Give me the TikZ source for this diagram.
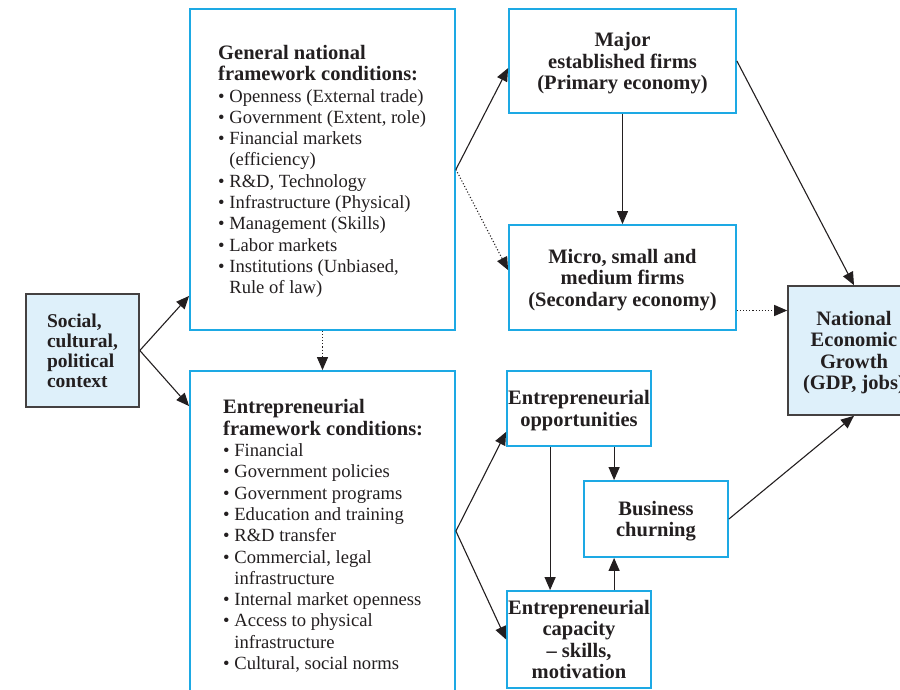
\documentclass[tikz,border=0pt]{standalone}
\usepackage{fontspec}
\setmainfont{Liberation Serif}
\usetikzlibrary{arrows.meta}
\definecolor{boxcyan}{HTML}{1DA9E4}
\definecolor{boxfill}{HTML}{DEF0FA}
\definecolor{ink}{HTML}{231F20}
\newcommand\hdrfont{\fontsize{20.5}{21.3}\selectfont\bfseries}
\newcommand\contind{\hphantom{\textbullet\ }}
\begin{document}
\begin{tikzpicture}[x=1pt,y=-1pt,
  cyanbox/.style={draw=boxcyan, line width=1.8pt, inner sep=0pt, fill=white},
  fillbox/.style={draw=ink!85, line width=1.6pt, fill=boxfill, inner sep=0pt},
  boldtxt/.style={font=\fontsize{20.5}{21.5}\selectfont\bfseries, text=ink, align=center, text depth=0pt},
  listtxt/.style={font=\fontsize{18.6}{21.3}\selectfont, text=ink, align=left, inner sep=0pt, anchor=north west},
  conn/.style={draw=ink, line width=1.1pt, -{Triangle[length=13pt,width=11pt]}},
  dotconn/.style={conn, dotted},
]
\useasboundingbox (0,0) rectangle (900,690);

% boxes
\node[fillbox, boldtxt, font=\fontsize{19.5}{20}\selectfont\bfseries, align=left,
      minimum width=113pt, minimum height=113pt] (social) at (82.5,350.5)
      {Social,\\cultural,\\political\\context};
\node[cyanbox, minimum width=265pt, minimum height=321pt] (gen) at (322.5,169.5) {};
\node[cyanbox, minimum width=265pt, minimum height=349pt] (entfw) at (322.5,545.5) {};
\node[cyanbox, boldtxt, minimum width=227pt, minimum height=104pt] (major) at (622.5,61)
      {Major\\established firms\\(Primary economy)};
\node[cyanbox, boldtxt, minimum width=227pt, minimum height=105pt] (micro) at (622.5,277.5)
      {Micro, small and\\medium firms\\(Secondary economy)};
\node[fillbox, boldtxt, minimum width=132pt, minimum height=129pt] (nat) at (854,350.5)
      {National\\Economic\\Growth\\(GDP, jobs)};
\node[cyanbox, boldtxt, minimum width=144pt, minimum height=75pt] (opp) at (579,408.5)
      {Entrepreneurial\\opportunities};
\node[cyanbox, boldtxt, minimum width=144pt, minimum height=76pt] (churn) at (656,519)
      {Business\\churning};
\node[cyanbox, boldtxt, minimum width=144pt, minimum height=97pt] (cap) at (579,639.5)
      {Entrepreneurial\\capacity\\– skills,\\motivation};

% list texts
\node[listtxt] (gentxt) at (218,45) {%
  {\hdrfont General national}\\
  {\hdrfont framework conditions:}\\
  \textbullet\ Openness (External trade)\\
  \textbullet\ Government (Extent, role)\\
  \textbullet\ Financial markets\\
  \contind(efficiency)\\
  \textbullet\ R\&D, Technology\\
  \textbullet\ Infrastructure (Physical)\\
  \textbullet\ Management (Skills)\\
  \textbullet\ Labor markets\\
  \textbullet\ Institutions (Unbiased,\\
  \contind Rule of law)};
\node[listtxt] (entfwtxt) at (223,399.5) {%
  {\hdrfont Entrepreneurial}\\
  {\hdrfont framework conditions:}\\
  \textbullet\ Financial\\
  \textbullet\ Government policies\\
  \textbullet\ Government programs\\
  \textbullet\ Education and training\\
  \textbullet\ R\&D transfer\\
  \textbullet\ Commercial, legal\\
  \contind infrastructure\\
  \textbullet\ Internal market openness\\
  \textbullet\ Access to physical\\
  \contind infrastructure\\
  \textbullet\ Cultural, social norms};

% connectors
\draw[conn] (social.east) -- ([yshift=35pt]gen.south west);
\draw[conn] (social.east) -- ([yshift=-36pt]entfw.north west);
\draw[conn] (gen.east) -- ([yshift=-60pt]major.north west);
\draw[dotconn] (gen.east) -- ([yshift=-46pt]micro.north west);
\draw[dotconn] (gen.south) -- (entfw.north);
\draw[conn] (major.south) -- (micro.north);
\draw[conn] (major.east) -- (nat.north);
\coordinate (microout) at ([yshift=-33pt]micro.east);
\draw[dotconn] (microout) -- (microout -| nat.west);
\draw[conn] (churn.east) -- (nat.south);
\coordinate (entfwout) at ([yshift=-161pt]entfw.north east);
\draw[conn] (entfwout) -- ([yshift=15pt]opp.south west);
\draw[conn] (entfwout) -- (cap.west);
\draw[conn] ([xshift=44pt]opp.south west) -- ([xshift=44pt]cap.north west);
\coordinate (oppdown) at ([xshift=108pt]opp.south west);
\draw[conn] (oppdown) -- (oppdown |- churn.north);
\coordinate (capup) at ([xshift=108pt]cap.north west);
\draw[conn] (capup) -- (capup |- churn.south);
\end{tikzpicture}
\end{document}
